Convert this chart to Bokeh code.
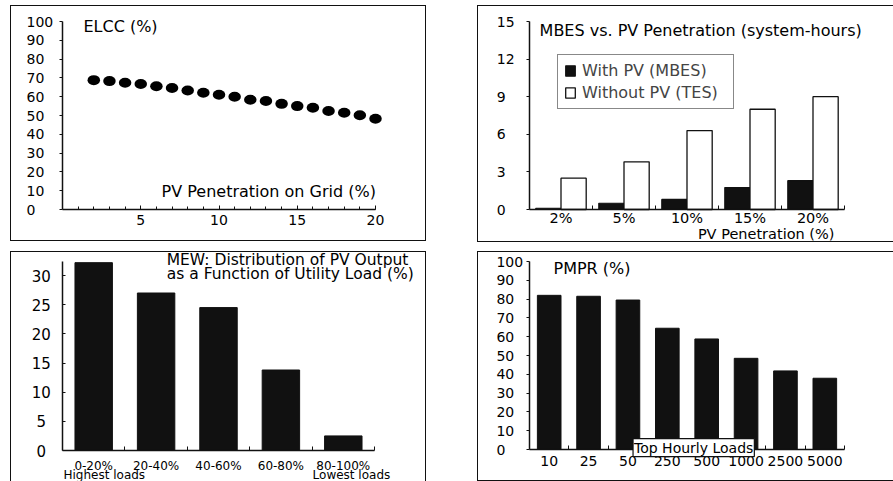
from bokeh.plotting import figure
from bokeh.models import Label, Legend, LegendItem, FixedTicker, Range1d, LinearAxis
from bokeh.layouts import row, column
from bokeh.embed import file_html
from bokeh.resources import INLINE

FONT = "DejaVu Sans"
INK = "#111111"

# ---- ELCC vs. PV penetration on grid ----
elcc_penetration = list(range(2, 21))
elcc_pct = [68.8, 68.3, 67.4, 66.8, 65.6, 64.6, 63.3, 62.1, 61.0, 60.0,
            58.4, 57.7, 56.2, 55.0, 54.1, 52.4, 51.5, 50.1, 48.3]
elcc_xticks = [5, 10, 15, 20]
elcc_yticks = [0, 10, 20, 30, 40, 50, 60, 70, 80, 90, 100]

# ---- MBES vs. PV penetration (system-hours) ----
mbes_cats = ["2%", "5%", "10%", "15%", "20%"]
mbes_with_pv = [0.1, 0.5, 0.8, 1.75, 2.3]
mbes_without_pv = [2.5, 3.8, 6.3, 8.0, 9.0]
mbes_yticks = [0, 3, 6, 9, 12, 15]

# ---- MEW: distribution of PV output by utility load ----
mew_cats = ["0-20%", "20-40%", "40-60%", "60-80%", "80-100%"]
mew_share = [32.2, 27.0, 24.5, 13.8, 2.5]
mew_yticks = [0, 5, 10, 15, 20, 25, 30]

# ---- PMPR vs. top hourly loads ----
pmpr_cats = ["10", "25", "50", "250", "500", "1000", "2500", "5000"]
pmpr_pct = [82.0, 81.5, 79.5, 64.5, 58.8, 48.5, 41.8, 37.9]
pmpr_yticks = [0, 10, 20, 30, 40, 50, 60, 70, 80, 90, 100]


def fit_range(p0, v0, p1, v1, size):
    """Range whose values v0, v1 fall at pixel offsets p0, p1 of a span `size` px long."""
    per_px = (v1 - v0) / (p1 - p0)
    return Range1d(v0 - p0 * per_px, v0 + (size - p0) * per_px)


def panel(w, h, xmap, ymap, xbounds, ybounds, borders, margin):
    # the plotting frame fills the whole panel; axes sit at fixed data locations
    xr = fit_range(*xmap, w)
    yr = fit_range(*ymap, h)
    p = figure(width=w, height=h, x_range=xr, y_range=yr, title=None,
               output_backend="svg", toolbar_location=None,
               min_border=0, margin=margin, x_axis_location=None,
               y_axis_location=None)
    p.outline_line_color = None
    p.xgrid.visible = False
    p.ygrid.visible = False
    p.background_fill_color = "white"
    p.border_fill_color = "white"
    p.styles = {f"border-{side}": f"1.5px solid {INK}" for side in borders}
    xa = LinearAxis(fixed_location=ybounds[0], bounds=xbounds)
    ya = LinearAxis(fixed_location=xbounds[0], bounds=ybounds)
    for ax in (xa, ya):
        ax.axis_line_color = INK
        ax.axis_line_width = 1.5
        ax.major_tick_line_color = INK
        ax.minor_tick_line_color = INK
        ax.major_label_text_font = FONT
        ax.major_label_text_color = "black"
    # y tick labels are set as left-aligned text labels instead
    ya.major_label_text_color = None
    ya.major_label_text_font_size = "14px"
    ya.major_tick_in = 0
    ya.major_tick_out = 3
    ya.minor_tick_line_color = None
    p.add_layout(xa, "below")
    p.add_layout(ya, "left")
    return p, xa, ya


def ytick_labels(p, ticks, xpos, align, size="14px"):
    for t in ticks:
        p.add_layout(Label(x=xpos, y=t, text=str(t), text_font=FONT,
                           text_font_size=size, text_align=align,
                           text_baseline="middle", text_color="black"))


def text(p, x, y, s, size="16px", align="left"):
    lab = Label(x=x, y=y, text=s, text_font=FONT, text_font_size=size,
                text_align=align, text_baseline="middle", text_color="black")
    p.add_layout(lab)
    return lab


def category_axis(ax, idx, cats, size, standoff):
    ax.ticker = FixedTicker(ticks=idx, minor_ticks=[i + 0.5 for i in idx])
    ax.major_label_overrides = {i: c for i, c in zip(idx, cats)}
    ax.major_tick_in = 0
    ax.major_tick_out = 0
    ax.minor_tick_in = 4
    ax.minor_tick_out = 0
    ax.major_label_text_font_size = size
    ax.major_label_standoff = standoff


# ---------------- ELCC ----------------
p1, x1, y1 = panel(416, 236, (51, 0, 364, 20), (33, 0, 221, 100), (0, 20), (0, 100),
                   ["top", "left", "right", "bottom"], (5, 0, 0, 10))
p1.ellipse(x=elcc_penetration, y=elcc_pct, width=12.5, height=10,
           width_units="screen", height_units="screen",
           fill_color="black", line_color=None)
x1.ticker = FixedTicker(ticks=elcc_xticks, minor_ticks=list(range(1, 21)))
x1.major_tick_in = 4
x1.major_tick_out = 0
x1.minor_tick_in = 3
x1.minor_tick_out = 0
x1.major_label_text_font_size = "14px"
x1.major_label_standoff = 5
y1.ticker = FixedTicker(ticks=elcc_yticks)
ytick_labels(p1, elcc_yticks, -2.3, "left")
text(p1, 1.34, 97.3, "ELCC (%)")
text(p1, 6.33, 9.6, "PV Penetration on Grid (%)")

# ---------------- MBES ----------------
n = len(mbes_cats)
idx = list(range(n))
p2, x2, y2 = panel(416, 237, (51, -0.5, 366, n - 0.5), (34, 0, 222, 15),
                   (-0.5, n - 0.5), (0, 15), ["top", "left", "bottom"], (5, 0, 0, 51))
r_with = p2.vbar(x=[i - 0.2 for i in idx], top=mbes_with_pv, width=0.4,
                 fill_color=INK, line_color=INK, line_width=1.2)
r_without = p2.vbar(x=[i + 0.2 for i in idx], top=mbes_without_pv, width=0.4,
                    fill_color="white", line_color=INK, line_width=1.3)
category_axis(x2, idx, mbes_cats, "14.5px", 0)
y2.ticker = FixedTicker(ticks=mbes_yticks)
ytick_labels(p2, mbes_yticks, -1.02, "left")
text(p2, -0.34, 14.3, "MBES vs. PV Penetration (system-hours)")
text(p2, 4.34, -1.95, "PV Penetration (%)", size="14.5px", align="right")
legend = Legend(items=[LegendItem(label="With PV (MBES)", renderers=[r_with]),
                       LegendItem(label="Without PV (TES)", renderers=[r_without])],
                location=(79, 134), orientation="vertical",
                label_text_font=FONT, label_text_font_size="16px",
                glyph_width=12, glyph_height=13, label_standoff=6,
                label_width=145, label_height=18, spacing=3, padding=6, margin=0,
                border_line_color=INK, border_line_width=1.5,
                background_fill_color="white", background_fill_alpha=1.0)
p2.add_layout(legend)

# ---------------- MEW ----------------
m = len(mew_cats)
midx = list(range(m))
p3, x3, y3 = panel(416, 231, (51, -0.5, 363, m - 0.5), (33, 0, 208, 30),
                   (-0.5, m - 0.5), (0, 32.4), ["top", "left", "right", "bottom"], (9, 0, 0, 10))
p3.vbar(x=midx, top=mew_share, width=0.6, fill_color=INK, line_color=INK)
category_axis(x3, midx, mew_cats, "12px", 8)
y3.ticker = FixedTicker(ticks=mew_yticks)
y3.major_tick_in = 3
y3.major_tick_out = 0
ytick_labels(p3, mew_yticks, -0.84, "center", size="15px")
text(p3, 1.17, 32.6, "MEW: Distribution of PV Output", size="15.5px")
text(p3, 1.17, 30.2, "as a Function of Utility Load (%)", size="15.5px")
text(p3, 0.17, -4.2, "Highest loads", size="12px", align="center")
text(p3, 4.13, -4.2, "Lowest loads", size="12px", align="center")

# ---------------- PMPR ----------------
k = len(pmpr_cats)
kidx = list(range(k))
p4, x4, y4 = panel(416, 230, (51, -0.5, 366, k - 0.5), (33, 0, 221, 100),
                   (-0.5, k - 0.5), (0, 100), ["top", "left", "bottom"], (9, 0, 0, 51))
p4.vbar(x=kidx, top=pmpr_pct, width=0.6, fill_color=INK, line_color=INK)
category_axis(x4, kidx, pmpr_cats, "14px", 6)
y4.ticker = FixedTicker(ticks=pmpr_yticks)
ytick_labels(p4, pmpr_yticks, -1.34, "left")
text(p4, 0.11, 96.3, "PMPR (%)")
loads = text(p4, 3.67, 1.0, "Top Hourly Loads", size="14px", align="center")
loads.background_fill_color = "white"
loads.border_line_color = INK
loads.border_line_width = 1.2
loads.padding = 1

layout = column(row(p1, p2), row(p3, p4))
open("out.html", "w").write(file_html(layout, INLINE))
